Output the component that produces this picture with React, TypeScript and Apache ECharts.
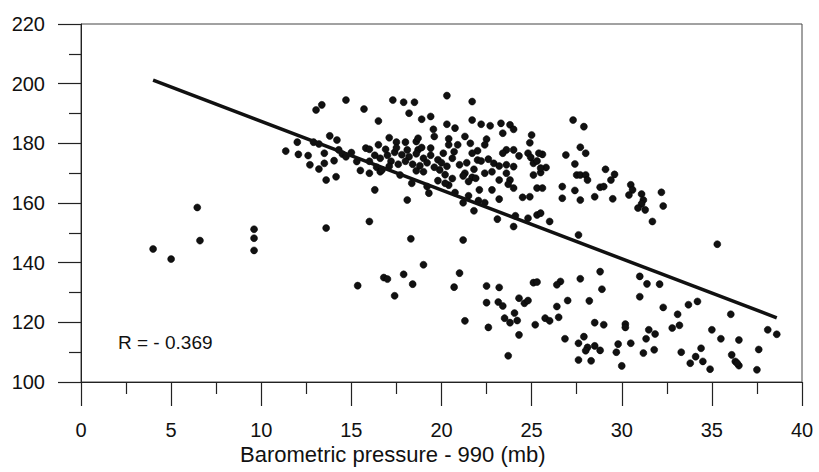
import React, { useEffect, useRef } from "react";
import * as echarts from "echarts";

// Barometric pressure - 990 (mb)
const pressure: number[] = [
  4.0, 5.0, 6.45, 6.6, 9.6, 9.6, 9.6, 11.36, 12.06,
  13.36, 13.04, 14.7, 15.7, 16.5, 13.8, 14.2, 12.0, 12.9, 13.2, 12.6, 13.5, 12.7, 13.2, 13.5, 14.04, 14.3, 14.5, 14.7, 15.0, 15.3,
  13.6, 14.15, 15.5, 16.0, 15.8, 16.0, 16.3, 16.6, 16.0, 16.4, 16.3, 13.6, 16.0, 18.3, 21.2,
  17.3, 17.9, 18.5, 20.3, 21.7, 18.2, 18.9, 19.4, 20.3, 20.75, 21.7, 19.55, 17.1, 17.5, 18.0, 18.6, 18.7, 19.6, 20.4, 21.3,
  20.4, 16.5, 20.9, 18.7, 19.4, 20.1, 20.7, 20.6, 21.4, 21.0, 21.3, 16.6, 17.7, 18.35, 18.6, 19.2, 19.3, 21.2, 21.7, 21.5,
  20.75, 18.1, 16.7, 19.9, 20.3,
  17.0, 17.4, 17.8, 18.2, 18.6, 19.0, 19.4, 19.8, 17.2, 17.6, 18.0, 18.4, 18.8, 19.2, 19.6, 20.0, 16.9, 17.5, 18.1, 18.9,
  17.1, 19.0, 20.2, 20.6, 19.8, 20.4,
  20.2, 21.2, 21.5, 21.8, 22.1, 22.05, 22.4,
  22.2, 22.7, 23.3, 23.8, 24.0, 23.4, 25.0, 24.9, 22.5, 22.4, 22.0, 21.6, 23.6, 24.0, 23.4, 24.3, 24.8, 24.95, 25.6, 26.9,
  25.4, 22.0, 21.7, 22.2, 22.6, 22.9, 23.2, 23.6, 24.0, 25.1, 25.3, 25.8, 25.5, 25.1, 21.8, 21.9, 22.4, 22.8, 23.6, 23.2,
  23.8, 23.7, 24.0, 22.8, 25.3, 25.6, 26.7, 24.5, 24.9, 23.2, 26.7,
  24.1, 24.8, 25.3, 26.0, 25.5, 23.1, 24.0,
  27.3, 27.9, 27.7, 28.0, 27.4, 27.5, 27.7, 28.0, 28.1, 29.1, 29.6, 29.4, 27.4, 28.8, 29.0, 27.7, 28.5, 29.5, 30.5, 30.6,
  30.4, 31.1, 31.2, 31.1, 30.9, 31.3, 32.2, 32.3, 31.7, 27.6, 25.5,
  35.3, 28.8, 26.6, 26.4, 27.7, 31.0, 31.4, 32.1, 28.9, 31.0, 27.0, 28.2, 26.4, 32.3, 33.7, 34.2, 26.5, 25.75, 26.0, 33.1,
  36.05, 28.5, 29.0, 30.2, 30.2, 32.8, 33.2, 35.0, 38.1, 38.6, 31.5, 31.85, 31.35, 26.85, 27.9, 35.5, 36.5, 27.6, 28.1, 28.0,
  28.5, 28.8, 29.8, 29.7, 30.5, 31.2, 31.8, 33.3, 34.4, 34.1, 33.8, 34.5, 34.9, 36.1, 36.3, 36.5, 36.4, 37.6, 37.5, 27.6,
  28.3, 30.0,
  15.35, 16.8, 17.0, 17.9, 17.4, 18.4, 19.0, 21.0, 20.7, 21.3, 22.5, 23.2, 22.5, 23.15, 23.4, 24.3, 24.6, 24.8, 24.05, 23.5,
  23.8, 24.2, 22.6, 24.3, 25.2, 23.7, 25.1, 25.3,
];

// Response values
const values: number[] = [
  144.6, 141.2, 158.5, 147.4, 151.2, 148.2, 144.1, 177.4, 176.3,
  192.9, 191.2, 194.5, 191.5, 187.5, 182.5, 181.1, 180.4, 180.4, 179.8, 175.9, 176.7, 172.8, 171.4, 173.3, 174.2, 177.8, 176.4, 175.5, 176.9, 173.9,
  167.7, 168.8, 170.9, 170.0, 178.4, 178.0, 176.0, 175.0, 174.0, 172.0, 164.4, 151.6, 153.8, 148.0, 147.6,
  194.5, 193.8, 193.8, 196.0, 194.0, 190.1, 188.1, 189.0, 186.4, 185.1, 187.8, 184.7, 181.9, 180.4, 180.4, 180.6, 181.7, 182.3, 181.5, 182.3,
  179.5, 179.5, 179.5, 177.8, 178.4, 176.7, 177.2, 175.0, 173.5, 172.8, 170.0, 170.5, 169.4, 166.6, 170.8, 165.5, 163.3, 169.1, 168.6, 167.2,
  163.5, 161.0, 171.1, 171.1, 172.3,
  176.0, 177.0, 176.2, 175.5, 176.5, 175.0, 176.0, 174.5, 174.0, 173.0, 174.0, 173.0, 172.5, 173.5, 172.0, 173.5, 178.0, 178.5, 177.8, 178.6,
  172.3, 170.5, 169.5, 168.2, 167.5, 166.0,
  166.6, 160.1, 162.4, 157.4, 164.4, 160.8, 160.1,
  186.4, 185.9, 186.7, 186.2, 184.7, 183.4, 182.8, 180.2, 181.4, 179.5, 177.5, 180.0, 177.8, 177.8, 176.7, 175.8, 176.7, 175.3, 176.3, 176.1,
  176.7, 174.4, 176.7, 174.1, 174.7, 173.3, 172.4, 172.8, 172.2, 173.3, 174.1, 171.9, 170.2, 169.4, 171.3, 168.3, 170.0, 170.5, 170.0, 167.7,
  167.7, 166.3, 165.0, 164.4, 165.0, 165.0, 165.5, 161.9, 162.1, 161.3, 161.6,
  155.7, 154.9, 156.0, 153.8, 171.7, 154.6, 152.1,
  187.8, 185.6, 178.7, 176.7, 173.1, 169.4, 169.4, 169.4, 167.7, 171.3, 169.6, 167.7, 164.2, 165.3, 165.5, 161.0, 162.1, 161.4, 166.1, 164.4,
  162.7, 163.0, 161.0, 159.7, 158.3, 157.7, 163.6, 159.0, 153.8, 149.3, 156.6,
  146.2, 137.0, 133.7, 132.6, 134.6, 135.4, 132.9, 132.8, 131.1, 128.6, 127.3, 127.2, 125.3, 125.0, 125.9, 127.0, 121.7, 121.4, 120.5, 122.7,
  122.7, 119.9, 119.2, 119.4, 118.3, 118.1, 119.0, 117.5, 117.5, 116.0, 117.5, 116.1, 114.5, 114.5, 115.2, 114.5, 114.1, 113.0, 111.6, 110.5,
  112.1, 110.6, 112.7, 110.0, 113.0, 109.7, 110.8, 110.0, 111.3, 108.5, 106.3, 106.9, 104.3, 109.1, 106.9, 105.5, 106.3, 110.9, 104.1, 107.4,
  107.1, 105.4,
  132.3, 135.0, 134.5, 136.1, 128.9, 132.8, 139.3, 136.5, 131.8, 120.5, 132.2, 131.7, 126.6, 126.8, 125.5, 128.1, 126.4, 127.3, 123.1, 121.4,
  119.9, 120.6, 118.3, 115.8, 119.2, 108.8, 133.3, 133.5,
];

// Fitted regression line end points
const fitX: number[] = [4.0, 38.6];
const fitY: number[] = [201.2, 121.5];

const xTicks: number[] = [0, 5, 10, 15, 20, 25, 30, 35, 40];
const yTicks: number[] = [100, 120, 140, 160, 180, 200, 220];

const xTitle = "Barometric pressure - 990 (mb)";
const rLabel = "R = - 0.369";

const FONT = "'Liberation Sans', Arial, sans-serif";

export default function App() {
  const ref = useRef<HTMLDivElement>(null);

  useEffect(() => {
    if (!ref.current) return;
    const chart = echarts.init(ref.current, undefined, { renderer: "svg" });
    const points = pressure.map((x, i) => [x, values[i]]);
    const fit = fitX.map((x, i) => [x, fitY[i]]);
    const axisColor = "#222";
    chart.setOption({
      animation: false,
      backgroundColor: "#ffffff",
      grid: {
        left: 81,
        right: 17,
        top: 24,
        bottom: 90,
        show: true,
        borderColor: "#444",
        borderWidth: 1,
        backgroundColor: "transparent",
      },
      xAxis: {
        type: "value",
        min: xTicks[0],
        max: xTicks[xTicks.length - 1],
        interval: 5,
        axisLine: { show: true, onZero: false, lineStyle: { color: axisColor, width: 1 } },
        axisTick: { show: true, inside: false, length: 24, lineStyle: { color: axisColor, width: 1.2 } },
        minorTick: { show: true, splitNumber: 2, length: 12, lineStyle: { color: axisColor, width: 1.2 } },
        splitLine: { show: false },
        axisLabel: {
          margin: 38,
          color: "#111",
          fontSize: 20,
          fontFamily: FONT,
        },
      },
      yAxis: {
        type: "value",
        min: yTicks[0],
        max: yTicks[yTicks.length - 1],
        interval: 20,
        axisLine: { show: true, onZero: false, lineStyle: { color: axisColor, width: 1 } },
        axisTick: { show: true, inside: false, length: 23, lineStyle: { color: axisColor, width: 1.2 } },
        minorTick: { show: true, splitNumber: 2, length: 12, lineStyle: { color: axisColor, width: 1.2 } },
        splitLine: { show: false },
        axisLabel: {
          margin: 36,
          color: "#111",
          fontSize: 20,
          fontFamily: FONT,
        },
      },
      series: [
        {
          type: "scatter",
          data: points,
          symbol: "circle",
          symbolSize: 7,
          itemStyle: { color: "#111", borderColor: "#000", borderWidth: 0.5, opacity: 1 },
          z: 3,
        },
        {
          type: "line",
          data: fit,
          symbol: "none",
          lineStyle: { color: "#111", width: 3.5 },
          z: 4,
        },
      ],
      graphic: [
        {
          type: "text",
          left: 118,
          top: 333,
          style: { text: rLabel, fill: "#111", font: `19px ${FONT}` },
        },
        {
          type: "text",
          left: 240,
          top: 443,
          style: { text: xTitle, fill: "#111", font: `22px ${FONT}` },
        },
      ],
    });
    return () => chart.dispose();
  }, []);

  return (
    <div
      ref={ref}
      style={{ position: "fixed", left: 0, top: 0, width: 819, height: 472, background: "#fff" }}
    />
  );
}
